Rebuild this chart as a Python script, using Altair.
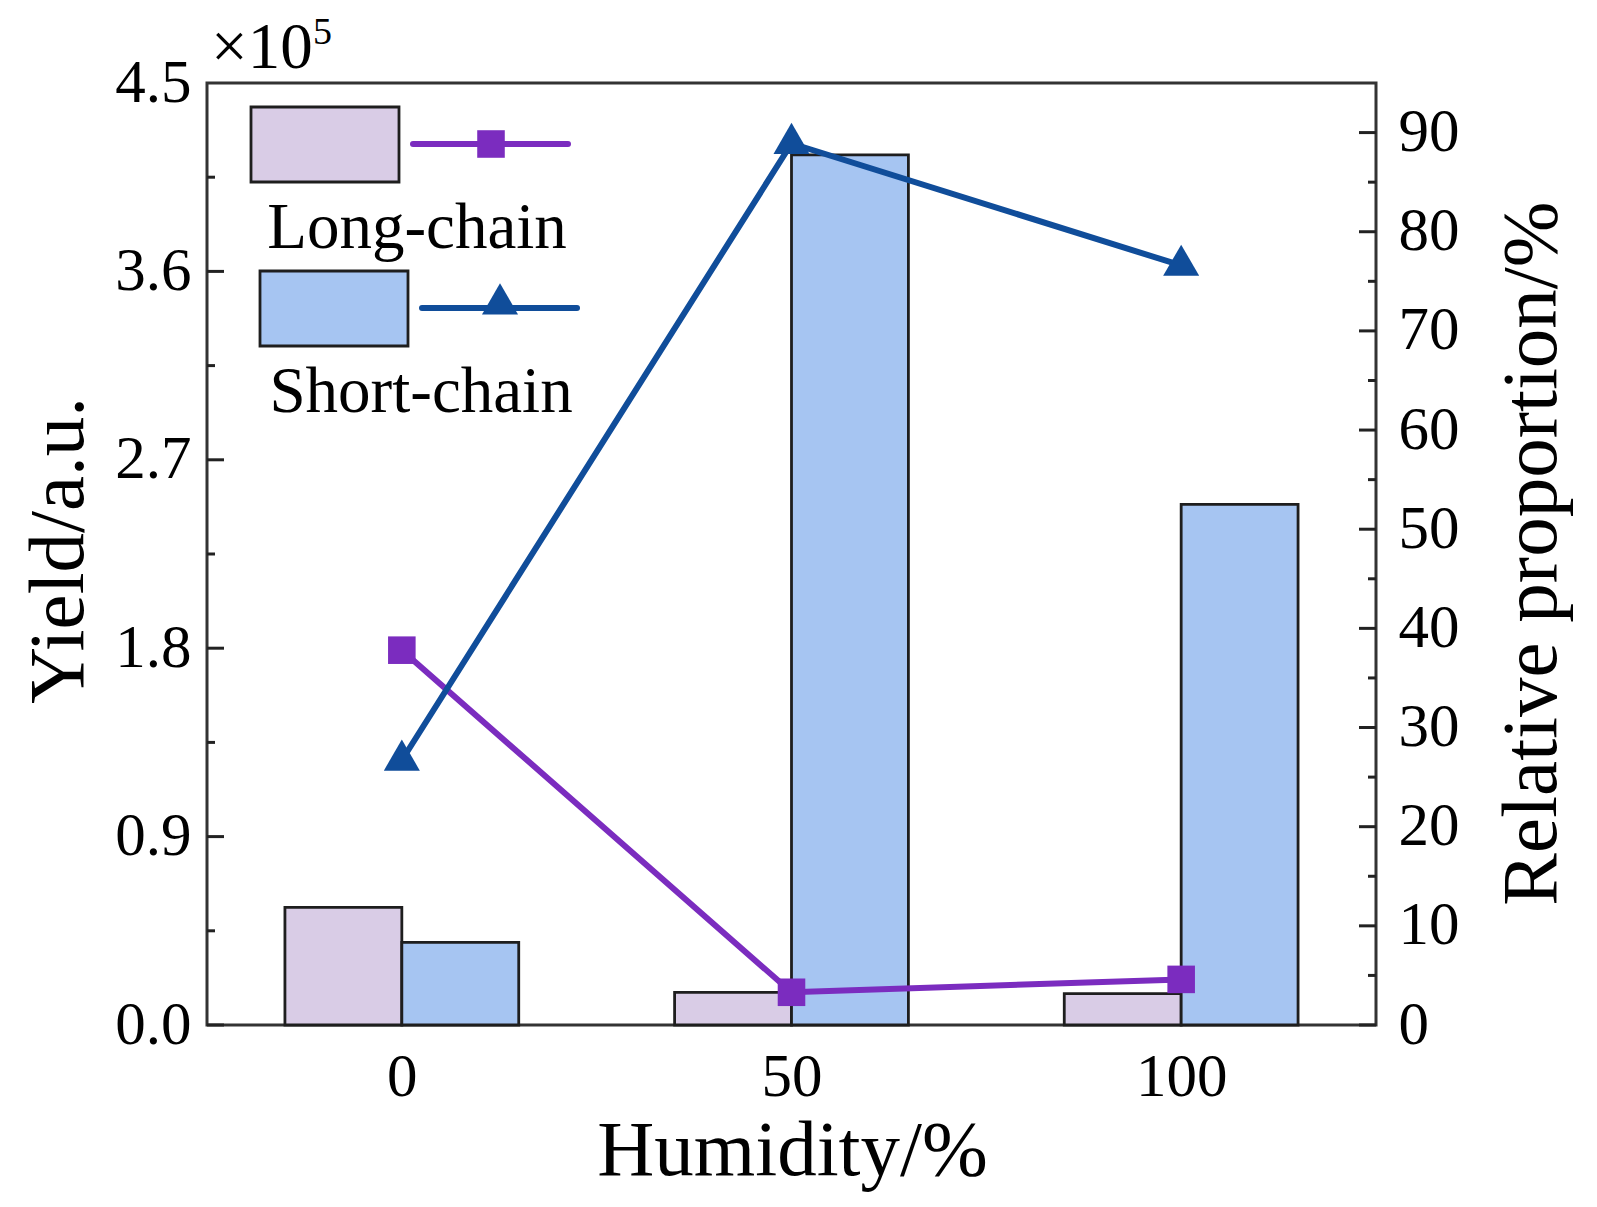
import altair as alt
import pandas as pd

# ---- data ----
humidity = [0, 50, 100]
long_yield = [0.562, 0.156, 0.150]      # x10^5 a.u.
short_yield = [0.395, 4.157, 2.487]     # x10^5 a.u.
long_prop = [37.8, 3.3, 4.6]            # %
short_prop = [26.7, 88.9, 76.6]         # %
series_names = ["Long-chain", "Short-chain"]
yield_major = [0.0, 0.9, 1.8, 2.7, 3.6]
yield_minor = [0.45, 1.35, 2.25, 3.15, 4.05]
prop_major = [0, 10, 20, 30, 40, 50, 60, 70, 80, 90]
prop_minor = [5, 15, 25, 35, 45, 55, 65, 75, 85]
x_ticks = [0, 50, 100]

FONT = "Liberation Serif"
W, H = 1169, 942
LAV, LBLUE = "#d9cce6", "#a6c5f2"
PURPLE, DBLUE = "#7b2cbf", "#104d9a"
EDGE = "#1e1e1e"

bars_df = pd.DataFrame({
    "humidity": humidity * 2,
    "series": [series_names[0]] * 3 + [series_names[1]] * 3,
    "yield": long_yield + short_yield,
})
lines_df = pd.DataFrame({
    "humidity": humidity * 2,
    "series": [series_names[0]] * 3 + [series_names[1]] * 3,
    "prop": long_prop + short_prop,
})

x_scale = alt.Scale(domain=[-25, 125], nice=False, zero=False)
y_left = alt.Scale(domain=[0, 4.5], nice=False)
y_right = alt.Scale(domain=[0, 95], nice=False)

x_axis = alt.Axis(values=x_ticks, ticks=False, domain=False, grid=False,
                  labelFont=FONT, labelFontSize=61, labelColor="black",
                  labelPadding=22, title="Humidity/%", titleFont=FONT,
                  titleFontSize=79, titleFontWeight="normal", titleColor="black",
                  titleX=585, titleY=149, titleBaseline="alphabetic", titleAlign="center")
left_axis = alt.Axis(orient="left", values=yield_major + [4.5], format=".1f",
                     ticks=False, domain=False, grid=False,
                     labelFont=FONT, labelFontSize=61, labelColor="black",
                     labelPadding=16, title="Yield/a.u.", titleFont=FONT,
                     titleFontSize=79, titleFontWeight="normal", titleColor="black",
                     titleAngle=270, titleX=-125, titleY=467,
                     titleBaseline="alphabetic", titleAlign="center")
right_axis = alt.Axis(orient="right", values=prop_major, ticks=False, domain=False,
                      grid=False, labelFont=FONT, labelFontSize=61,
                      labelColor="black", labelPadding=22,
                      title="Relative proportion/%", titleFont=FONT,
                      titleFontSize=79, titleFontWeight="normal", titleColor="black",
                      titleAngle=270, titleX=179, titleY=470,
                      titleBaseline="alphabetic", titleAlign="center")

bar_color = alt.Scale(domain=series_names, range=[LAV, LBLUE])
line_color = alt.Scale(domain=series_names, range=[PURPLE, DBLUE])

bars = alt.Chart(bars_df).transform_calculate(
    x0="datum.series == 'Long-chain' ? datum.humidity - 15 : datum.humidity",
    x1="datum.series == 'Long-chain' ? datum.humidity : datum.humidity + 15",
).mark_rect(stroke=EDGE, strokeWidth=2.8).encode(
    x=alt.X("x0:Q", scale=x_scale, axis=x_axis),
    x2="x1:Q",
    y=alt.Y("yield:Q", scale=y_left, axis=left_axis),
    y2=alt.datum(0),
    color=alt.Color("series:N", scale=bar_color, legend=None),
)


def tick_layer(values, scale, axis, x_from, x_to):
    return alt.Chart(pd.DataFrame({"v": values})).mark_rule(
        color="#222", strokeWidth=3
    ).encode(
        y=alt.Y("v:Q", scale=scale, axis=axis),
        x=alt.value(x_from), x2=alt.value(x_to),
    )


left_group = alt.layer(
    bars,
    tick_layer(yield_major, y_left, left_axis, 0, 17),
    tick_layer(yield_minor, y_left, left_axis, 0, 8),
)

lines = alt.Chart(lines_df).mark_line(strokeWidth=6).encode(
    x=alt.X("humidity:Q", scale=x_scale, axis=x_axis),
    y=alt.Y("prop:Q", scale=y_right, axis=right_axis),
    color=alt.Color("series:N", scale=line_color, legend=None),
)
points = alt.Chart(lines_df).mark_point(filled=True, opacity=1).encode(
    x=alt.X("humidity:Q", scale=x_scale, axis=x_axis),
    y=alt.Y("prop:Q", scale=y_right, axis=right_axis),
    color=alt.Color("series:N", scale=line_color, legend=None),
    shape=alt.Shape("series:N", scale=alt.Scale(domain=series_names,
                                                range=["square", "triangle"]),
                    legend=None),
    size=alt.Size("series:N", scale=alt.Scale(domain=series_names,
                                              range=[760, 1300]),
                  legend=None),
)
right_group = alt.layer(
    lines, points,
    tick_layer(prop_major, y_right, right_axis, W - 17, W),
    tick_layer(prop_minor, y_right, right_axis, W - 8, W),
)


def legend_entry(name, fill, lcolor, shape, size, dx, dy):
    d = pd.DataFrame({"label": [name]})
    base = alt.Chart(d)
    sw = base.mark_rect(fill=fill, stroke=EDGE, strokeWidth=2.8).encode(
        x=alt.value(44 + dx), x2=alt.value(192 + dx),
        y=alt.value(24 + dy), y2=alt.value(99 + dy))
    ln = base.mark_rule(color=lcolor, strokeWidth=6, strokeCap="round").encode(
        x=alt.value(206 + dx), x2=alt.value(361 + dx),
        y=alt.value(61 + dy))
    mk = base.mark_point(shape=shape, filled=True, opacity=1, color=lcolor,
                         size=size).encode(
        x=alt.value(284 + dx), y=alt.value(61 + dy - (4 if shape == "triangle" else 0)))
    tx = base.mark_text(font=FONT, fontSize=65, align="center",
                        baseline="alphabetic", color="black").encode(
        x=alt.value(210 + dx // 2), y=alt.value(165 + dy), text="label:N")
    return [sw, ln, mk, tx]


legend = legend_entry(series_names[0], LAV, PURPLE, "square", 760, 0, 0) + \
    legend_entry(series_names[1], LBLUE, DBLUE, "triangle", 1300, 9, 164)

mult = alt.Chart(pd.DataFrame({"t": ["×10"]})).mark_text(
    font=FONT, fontSize=65, align="left", baseline="alphabetic", color="black"
).encode(x=alt.value(4), y=alt.value(-15), text="t:N")
sup = alt.Chart(pd.DataFrame({"t": ["5"]})).mark_text(
    font=FONT, fontSize=38, align="left", baseline="alphabetic", color="black"
).encode(x=alt.value(106), y=alt.value(-39), text="t:N")

chart = alt.layer(left_group, right_group, *legend, mult, sup).resolve_scale(
    y="independent", color="independent"
).properties(
    width=W, height=H,
    autosize=alt.AutoSizeParams(type="none"),
    padding={"left": 199, "top": 75, "right": 213, "bottom": 174},
).configure(
    background="white",
    view=alt.ViewConfig(stroke="#333333", strokeWidth=3),
)

chart.save("out.html", embed_options={"renderer": "svg", "actions": False})
